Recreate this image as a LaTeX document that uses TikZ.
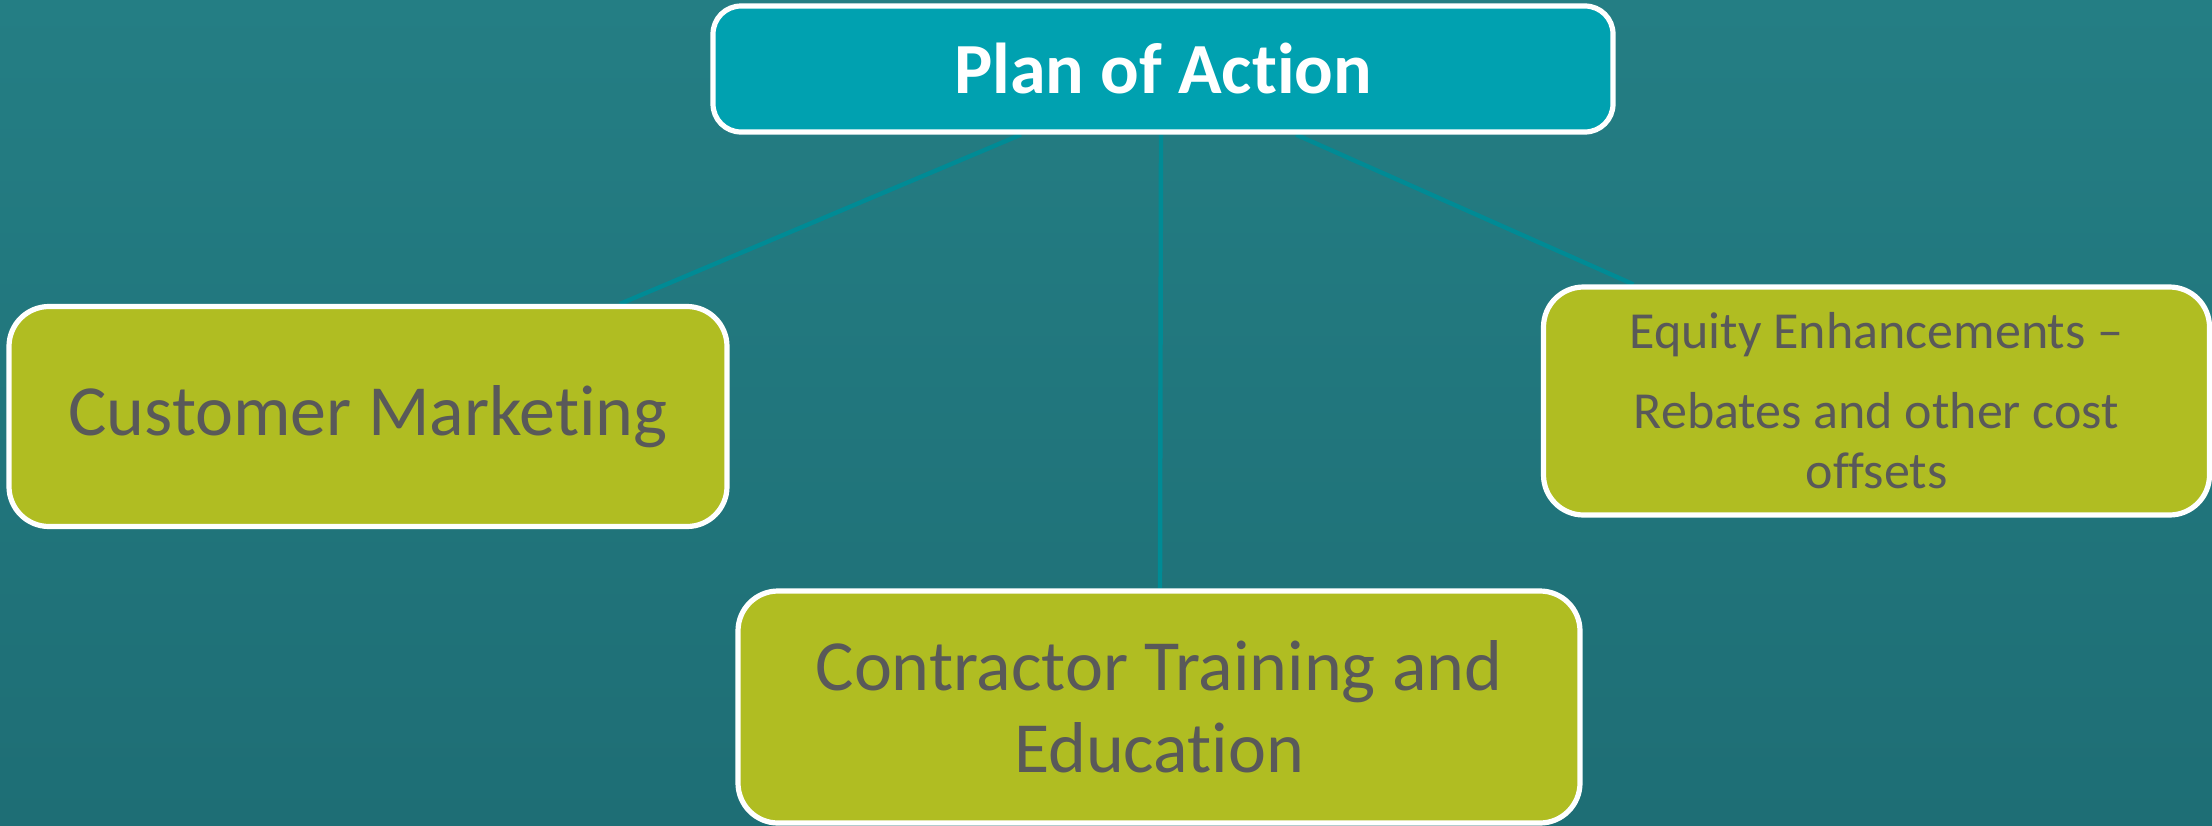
\documentclass[tikz,border=0pt]{standalone}
\usepackage{fontspec}
\setmainfont{Carlito}[RawFeature={-liga;-clig;-calt;-dlig}]
\usetikzlibrary{calc}
\pgfdeclarelayer{canvas}
\pgfdeclarelayer{links}
\pgfsetlayers{canvas,links,main}
\definecolor{bgtop}{HTML}{247E84}
\definecolor{bgbot}{HTML}{1E6E75}
\definecolor{headfill}{HTML}{00A1B0}
\definecolor{leaffill}{HTML}{B0BD22}
\definecolor{leaftext}{HTML}{595959}
\definecolor{linkcol}{HTML}{008B95}
\tikzset{
  headbox/.style={draw=white, line width=2.6pt, fill=headfill, rounded corners=14pt,
    text=white, font=\bfseries\fontsize{36}{40}\selectfont, align=center, inner sep=0pt},
  leafbox/.style={draw=white, line width=2.6pt, fill=leaffill, rounded corners=20pt,
    text=leaftext, align=center, inner sep=0pt},
  link/.style={draw=linkcol, line width=2.2pt}
}
\begin{document}
\begin{tikzpicture}[x=0.5pt, y=-0.5pt]
  \useasboundingbox (0,0) rectangle (2212,825);
  \begin{pgfonlayer}{canvas}
    \shade[top color=bgtop, bottom color=bgbot] (0,0) rectangle (2212,825);
  \end{pgfonlayer}

  % root of the chart
  \node[headbox, minimum width=450pt, minimum height=63pt] (top) at (1163,69) {Plan of Action};

  % three branches
  \node[leafbox, minimum width=359pt, minimum height=110pt,
        font=\fontsize{36}{41}\selectfont] (cm) at (368,416.5) {Customer Marketing};
  \node[leafbox, minimum width=333pt, minimum height=114pt,
        font=\fontsize{26}{30}\selectfont] (eq) at (1876.5,401)
        {Equity Enhancements –\\[10pt]Rebates and other cost\\offsets};
  \node[leafbox, minimum width=421pt, minimum height=116pt,
        font=\fontsize{36}{41}\selectfont] (ct) at (1159,707)
        {Contractor Training and\\Education};

  % connectors, kept under the boxes
  \begin{pgfonlayer}{links}
    \draw[link] ($(top.south)+(-142,0)$) -- ($(cm.north)+(252,0)$);
    \draw[link] ($(top.south)+(-2,0)$) -- ($(ct.north)+(1,0)$);
    \draw[link] ($(top.south)+(133,0)$) -- ($(eq.north)+(-243,0)$);
  \end{pgfonlayer}
\end{tikzpicture}
\end{document}
